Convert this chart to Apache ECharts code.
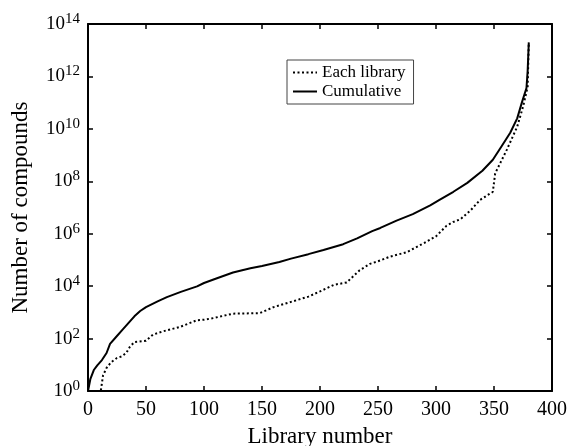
<!DOCTYPE html>
<html>
<head>
<meta charset="utf-8">
<script src="https://cdn.jsdelivr.net/npm/echarts@6/dist/echarts.min.js"></script>
<style>
  html, body { margin: 0; padding: 0; background: #fff; }
  #chart { width: 570px; height: 446px; }
</style>
</head>
<body>
<div id="chart"></div>
<script>
// library number (x) and log10 of compound count (y)
const cumX = [0, 2, 5, 8, 12, 16, 19, 24, 30, 35, 40, 45, 50, 60, 68, 80, 94, 100, 110, 125, 140, 150, 165, 175, 190, 203, 220, 232, 245, 252, 266, 280, 295, 303, 315, 327, 340, 349, 356, 364, 370, 374, 378, 379, 380]
const cumLog = [0, 0.45, 0.8, 0.98, 1.18, 1.45, 1.8, 2.05, 2.35, 2.6, 2.85, 3.05, 3.2, 3.42, 3.58, 3.78, 3.99, 4.12, 4.28, 4.52, 4.68, 4.77, 4.92, 5.05, 5.22, 5.38, 5.6, 5.82, 6.1, 6.22, 6.5, 6.75, 7.08, 7.29, 7.6, 7.94, 8.4, 8.82, 9.3, 9.85, 10.4, 11.0, 11.56, 12.2, 13.3]

const eachX = [0, 11, 13, 16, 20, 25, 29, 33, 36, 40, 50, 56, 65, 79, 94, 100, 108, 125, 148, 160, 175, 190, 200, 212, 223, 234, 243, 250, 260, 275, 290, 300, 309, 315, 321, 330, 338, 349, 351, 356, 361, 370, 375, 379, 380]
const eachLog = [0, 0, 0.6, 0.88, 1.1, 1.26, 1.32, 1.45, 1.68, 1.87, 1.92, 2.15, 2.28, 2.44, 2.7, 2.72, 2.78, 2.95, 2.97, 3.2, 3.4, 3.6, 3.8, 4.05, 4.14, 4.6, 4.85, 4.95, 5.12, 5.3, 5.65, 5.9, 6.3, 6.45, 6.55, 6.9, 7.29, 7.6, 8.3, 8.75, 9.2, 10.08, 10.84, 11.6, 13.3]

const seriesNames = ['Each library', 'Cumulative']

const font = 'Liberation Serif'
const chart = echarts.init(document.getElementById('chart'))

const pairs = (xs, ys) => xs.map((x, i) => [x, ys[i]])

const frameAxis = {
  min: 0,
  axisLine: { show: true, onZero: false, lineStyle: { color: '#000', width: 2 } },
  axisTick: { show: true, inside: true, length: 5, lineStyle: { color: '#000', width: 1.5 } },
  splitLine: { show: false }
}

const option = {
  animation: false,
  grid: { left: 88, right: 18, top: 24, bottom: 55, containLabel: false, outerBoundsMode: 'none' },
  legend: {
    orient: 'vertical',
    left: 287,
    top: 60,
    data: seriesNames,
    itemWidth: 24,
    itemHeight: 14,
    itemGap: 2,
    padding: [4, 8, 4, 5],
    borderColor: '#444',
    borderWidth: 1,
    itemStyle: { opacity: 0 },
    textStyle: { fontFamily: font, fontSize: 17, color: '#000' }
  },
  xAxis: [
    Object.assign({}, frameAxis, {
      type: 'value',
      max: 400,
      interval: 50,
      name: 'Library number',
      nameLocation: 'middle',
      nameGap: 34,
      nameTextStyle: { fontFamily: font, fontSize: 23, color: '#000' },
      axisLabel: { fontFamily: font, fontSize: 20, color: '#000', margin: 9 }
    }),
    Object.assign({}, frameAxis, {
      type: 'value',
      position: 'top',
      max: 400,
      interval: 50,
      axisLabel: { show: false }
    })
  ],
  yAxis: [
    Object.assign({}, frameAxis, {
      type: 'value',
      max: 14,
      interval: 2,
      name: 'Number of compounds',
      nameLocation: 'middle',
      nameGap: 56,
      nameTextStyle: { fontFamily: font, fontSize: 23, color: '#000' },
      axisLabel: {
        margin: 8,
        formatter: v => '{b|10}{s|' + v + '}',
        rich: {
          b: { fontFamily: font, fontSize: 19, color: '#000' },
          s: { fontFamily: font, fontSize: 15, color: '#000', padding: [0, 0, 10, 0] }
        }
      }
    }),
    Object.assign({}, frameAxis, {
      type: 'value',
      position: 'right',
      max: 14,
      interval: 2,
      axisLabel: { show: false }
    })
  ],
  series: [
    {
      name: seriesNames[0],
      type: 'line',
      symbol: 'none',
      data: pairs(eachX, eachLog),
      lineStyle: { color: '#000', width: 2, type: [2, 2.5] },
      itemStyle: { color: '#000' },
      z: 2
    },
    {
      name: seriesNames[1],
      type: 'line',
      symbol: 'none',
      data: pairs(cumX, cumLog),
      lineStyle: { color: '#000', width: 2 },
      itemStyle: { color: '#000' },
      z: 3
    }
  ]
}

chart.setOption(option)
</script>
</body>
</html>
